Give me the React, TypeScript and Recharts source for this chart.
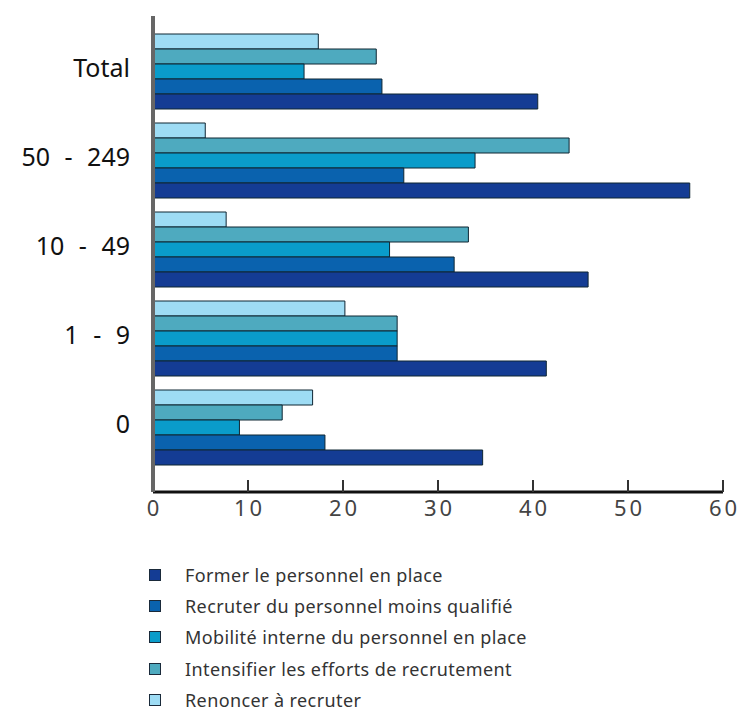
import { BarChart, Bar, XAxis, YAxis } from "recharts";

// Part des entreprises (%) par taille, selon la réponse aux difficultés de recrutement
const categories = ["Total", "50 - 249", "10 - 49", "1 - 9", "0"];

const former = [40.5, 56.5, 45.8, 41.4, 34.7];
const recruterMoins = [24.1, 26.4, 31.7, 25.7, 18.1];
const mobilite = [15.9, 33.9, 24.9, 25.7, 9.1];
const intensifier = [23.5, 43.8, 33.2, 25.7, 13.6];
const renoncer = [17.4, 5.5, 7.7, 20.2, 16.8];

const xTicks = [0, 10, 20, 30, 40, 50, 60];

// legend order (top to bottom)
const series = [
  { key: "former", name: "Former le personnel en place", color: "#143c94", values: former },
  { key: "recruter", name: "Recruter du personnel moins qualifié", color: "#0a62ae", values: recruterMoins },
  { key: "mobilite", name: "Mobilité interne du personnel en place", color: "#0a9cca", values: mobilite },
  { key: "intensifier", name: "Intensifier les efforts de recrutement", color: "#4eaabf", values: intensifier },
  { key: "renoncer", name: "Renoncer à recruter", color: "#9edcf4", values: renoncer },
];

const data = categories.map((c, i) => {
  const row: Record<string, string | number> = { cat: c };
  series.forEach((s) => {
    row[s.key] = s.values[i];
  });
  return row;
});

const FONT = "'Noto Sans', 'DejaVu Sans', sans-serif";

function XTick(props: any) {
  const { x, y, payload } = props;
  return (
    <g>
      {payload.value !== 0 && (
        <line x1={x} x2={x} y1={y - 12} y2={y} stroke="#333" strokeWidth={2} />
      )}
      <text
        x={x + 1.5}
        y={y + 15}
        textAnchor="middle"
        dominantBaseline="central"
        fontSize={22}
        letterSpacing={3}
        fill="#444"
        fontFamily={FONT}
      >
        {payload.value}
      </text>
    </g>
  );
}

function YTick(props: any) {
  const { y, payload } = props;
  return (
    <text
      x={130}
      y={y - 5}
      textAnchor="end"
      dominantBaseline="central"
      fontSize={25}
      wordSpacing={8}
      fill="#111"
      fontFamily={FONT}
    >
      {payload.value}
    </text>
  );
}

export default function App() {
  // bars drawn top-to-bottom inside each group: reverse of the legend order
  const drawOrder = [...series].reverse();
  return (
    <div
      style={{
        position: "absolute",
        left: 0,
        top: 0,
        width: 739,
        height: 718,
        background: "#fff",
        fontFamily: FONT,
      }}
    >
      <BarChart
        width={739}
        height={540}
        data={data}
        layout="vertical"
        margin={{ top: 16, right: 16, left: 0, bottom: 20 }}
        barGap={0}
        barSize={15}
      >
        <XAxis
          type="number"
          domain={[0, 60]}
          ticks={xTicks}
          interval={0}
          height={28}
          tickSize={0}
          tickMargin={0}
          tick={<XTick />}
          axisLine={{ stroke: "#111", strokeWidth: 3 }}
          tickLine={false}
        />
        <YAxis
          type="category"
          dataKey="cat"
          width={153}
          padding={{ top: 11, bottom: 20 }}
          tick={<YTick />}
          tickLine={false}
          axisLine={{ stroke: "#666", strokeWidth: 4 }}
          interval={0}
        />
        {drawOrder.map((s) => (
          <Bar
            key={s.key}
            dataKey={s.key}
            name={s.name}
            fill={s.color}
            stroke="#0f2633"
            strokeWidth={1}
            isAnimationActive={false}
          />
        ))}
      </BarChart>
      <div style={{ position: "absolute", left: 0, top: 0 }}>
        {series.map((s, i) => (
          <div
            key={s.key}
            style={{
              position: "absolute",
              left: 149,
              top: 575 + i * 31.2 - 12,
              height: 24,
              display: "flex",
              alignItems: "center",
              whiteSpace: "nowrap",
            }}
          >
            <span
              style={{
                display: "inline-block",
                width: 10,
                height: 10,
                background: s.color,
                border: "1px solid #1a2a3a",
              }}
            />
            <span
              style={{
                marginLeft: 24,
                fontSize: 18,
                letterSpacing: 0.4,
                color: "#333",
                fontFamily: FONT,
              }}
            >
              {s.name}
            </span>
          </div>
        ))}
      </div>
    </div>
  );
}
